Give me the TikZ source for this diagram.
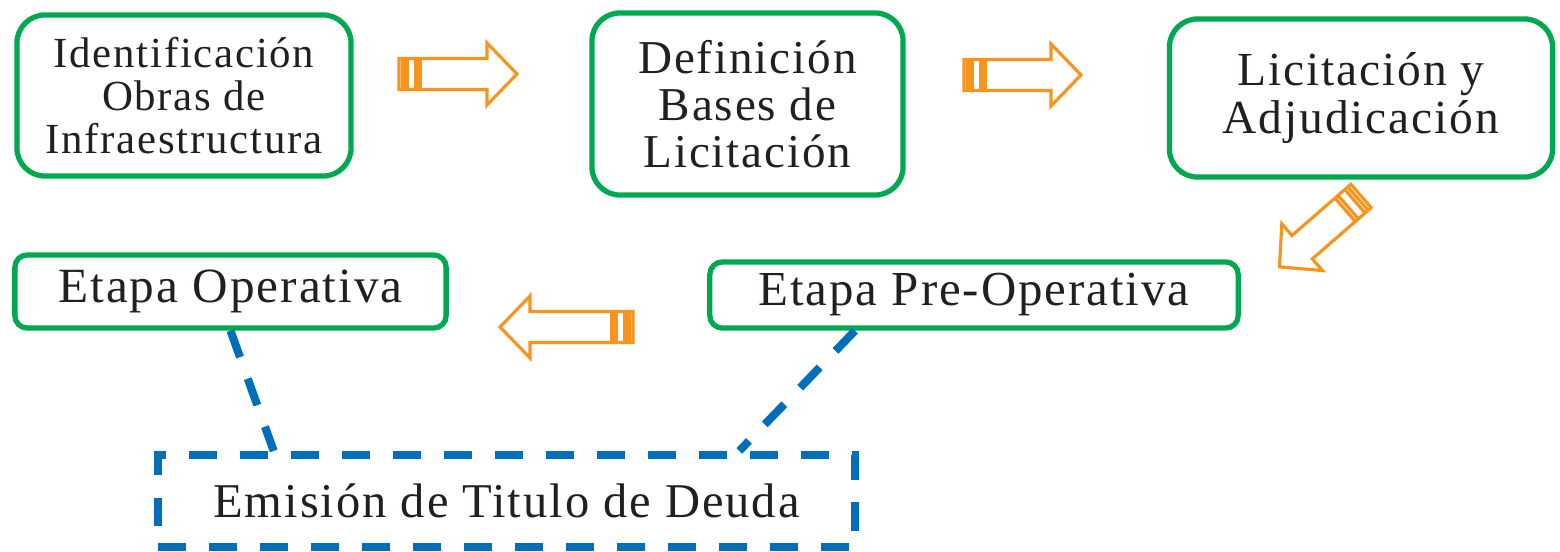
\documentclass[tikz,border=0pt]{standalone}
\usepackage{fontspec}
\setmainfont{Liberation Serif}[LetterSpace=4]
\usetikzlibrary{calc}
\definecolor{boxgreen}{RGB}{0,168,80}
\definecolor{arroworange}{RGB}{247,148,29}
\definecolor{dashblue}{RGB}{0,110,185}
\definecolor{txt}{RGB}{35,31,32}
\tikzset{
  greenbox/.style={draw=boxgreen, line width=1.5pt, rounded corners=8pt, text=txt, align=center, inner sep=0pt,
    font=\fontsize{14}{13.4}\selectfont},
  greenboxsmall/.style={greenbox, rounded corners=3.5pt},
  bluedash/.style={draw=dashblue, line width=2.3pt, dash pattern=on 8pt off 6.5pt},
  dashbox/.style={bluedash, text=txt, inner sep=0pt, font=\fontsize{13.8}{13.4}\selectfont},
  arrowline/.style={draw=arroworange, line width=0.9pt, line join=miter},
  pics/blockarrow/.style={code={
    \draw[arrowline] (0,-15.5) -- (#1-30,-15.5) -- (#1-30,-31) -- (#1,0) -- (#1-30,31) -- (#1-30,15.5) -- (0,15.5) -- cycle;
    \draw[arrowline] (4,-15.5) -- (4,15.5);
    \draw[arrowline] (8,-15.5) -- (8,15.5);
    \draw[arrowline] (17,-15.5) -- (17,15.5);
    \draw[arrowline] (21,-15.5) -- (21,15.5);
  }}
}
\begin{document}
\begin{tikzpicture}[x=0.01cm, y=-0.01cm]
\useasboundingbox (0,0) rectangle (1560,551);
\node[greenbox, minimum width=3.34cm, minimum height=1.61cm, font=\fontsize{12.2}{12.2}\selectfont] (b1) at (184,95.5) {Identificación\\Obras de\\Infraestructura};
\node[greenbox, minimum width=3.11cm, minimum height=1.82cm, font=\fontsize{13.4}{13.3}\selectfont] (b2) at (747.5,104) {Definición\\Bases de\\Licitación};
\node[greenbox, minimum width=3.83cm, minimum height=1.58cm, font=\fontsize{13.5}{13.6}\selectfont] (b3) at (1361,98) {Licitación y\\Adjudicación};
\node[greenboxsmall, minimum width=4.31cm, minimum height=0.73cm] (b4) at (230.5,291.5) {Etapa Operativa};
\node[greenboxsmall, minimum width=5.28cm, minimum height=0.66cm, font=\fontsize{13.9}{13.4}\selectfont] (b5) at (974,295) {Etapa Pre-Operativa};
\node[dashbox, minimum width=6.97cm, minimum height=0.92cm] (d) at (506.5,501) {Emisión de Titulo de Deuda};
\pic at (399,74) {blockarrow=118};
\pic at (964,75) {blockarrow=117};
\pic[rotate=180] at (633,327) {blockarrow=133};
\pic[rotate=221] at (1361,196) {blockarrow=108};
\draw[bluedash] (b4.south) -- ($(d.north west)!0.17!(d.north east)$);
\draw[bluedash] ($(b5.south west)!0.277!(b5.south east)$) -- ($(d.north west)!0.83!(d.north east)$);
\end{tikzpicture}
\end{document}
